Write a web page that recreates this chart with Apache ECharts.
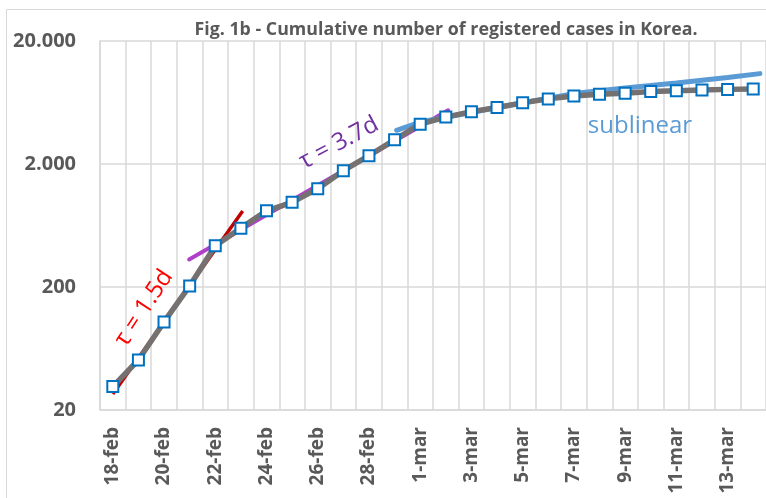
<!DOCTYPE html>
<html>
<head>
<meta charset="utf-8">
<script src="https://cdn.jsdelivr.net/npm/echarts@6/dist/echarts.min.js"></script>
<style>
  html, body { margin: 0; padding: 0; background: #fff; }
  #chart { width: 766px; height: 498px; }
</style>
</head>
<body>
<div id="chart"></div>
<script>
const days = [
  '18-feb', '19-feb', '20-feb', '21-feb', '22-feb', '23-feb', '24-feb', '25-feb',
  '26-feb', '27-feb', '28-feb', '29-feb', '1-mar', '2-mar', '3-mar', '4-mar',
  '5-mar', '6-mar', '7-mar', '8-mar', '9-mar', '10-mar', '11-mar', '12-mar',
  '13-mar', '14-mar'
]
const cases = [
  31, 51, 104, 204, 433, 602, 833, 977, 1261, 1766, 2337, 3150, 4212,
  4812, 5328, 5766, 6284, 6767, 7134, 7382, 7513, 7755, 7869, 7979, 8086, 8162
]
// fit lines: [day index, cases]
const fitFast = [[0, 27], [5.07, 828]]
const fitSlow = [[2.98, 335], [13.09, 5460]]
const fitSublinear = [
  [11.08, 3760], [12, 4390], [14, 5250], [16, 6300], [18, 7470],
  [20, 8300], [22, 9100], [24, 10080], [25.26, 10860]
]
const yTickLabels = ['20', '200', '2.000', '20.000']

const chart = echarts.init(document.getElementById('chart'))
chart.setOption({
  animation: false,
  title: {
    text: 'Fig. 1b - Cumulative number of registered cases in Korea.',
    left: 441,
    top: 16,
    textAlign: 'center',
    textStyle: {
      fontFamily: 'Open Sans',
      fontWeight: 'bold',
      fontSize: 17.8,
      color: '#595959'
    }
  },
  grid: { left: 100, top: 41, right: 0, bottom: 88 },
  xAxis: [{
    type: 'category',
    data: days,
    boundaryGap: true,
    axisLine: { lineStyle: { color: '#d9d9d9', width: 1.5 } },
    axisTick: { show: false },
    axisLabel: {
      interval: 1,
      rotate: 90,
      margin: 17,
      fontFamily: 'Open Sans',
      fontWeight: 'bold',
      fontSize: 19,
      color: '#595959'
    },
    splitLine: {
      show: true,
      interval: 0,
      lineStyle: { color: '#d9d9d9', width: 1.5 }
    }
  }, {
    type: 'value',
    min: -0.5,
    max: 25.5,
    show: false
  }],
  yAxis: [{
    type: 'log',
    logBase: 10,
    min: 20,
    max: 20000,
    show: false
  }, {
    type: 'value',
    position: 'left',
    min: 0,
    max: 3,
    interval: 1,
    axisLine: { show: true, lineStyle: { color: '#d9d9d9', width: 1.5 } },
    axisTick: { show: false },
    axisLabel: {
      margin: 24,
      fontFamily: 'Open Sans',
      fontWeight: 'bold',
      fontSize: 20,
      color: '#595959',
      formatter: (v) => yTickLabels[Math.round(v)]
    },
    splitLine: { lineStyle: { color: '#d9d9d9', width: 1.5 } }
  }],
  graphic: [
    {
      type: 'rect',
      shape: { x: 6.5, y: 9.5, width: 800, height: 520 },
      style: { fill: 'none', stroke: '#d9d9d9', lineWidth: 1 },
      silent: true
    },
    {
      type: 'text',
      x: 144, y: 308, rotation: 56.5 * Math.PI / 180, z: 10,
      style: {
        text: 'τ = 1.5d', fill: '#ff0000', font: '24px "Open Sans"',
        textAlign: 'center', textVerticalAlign: 'middle'
      }
    },
    {
      type: 'text',
      x: 339, y: 143, rotation: 28 * Math.PI / 180, z: 10,
      style: {
        text: 'τ = 3.7d', fill: '#7030a0', font: '24px "Open Sans"',
        textAlign: 'center', textVerticalAlign: 'middle'
      }
    },
    {
      type: 'text',
      x: 640, y: 126, z: 10,
      style: {
        text: 'sublinear', fill: '#5b9bd5', font: '24px "Open Sans"',
        textAlign: 'center', textVerticalAlign: 'middle'
      }
    }
  ],
  series: [
    {
      name: 'fit fast',
      type: 'line',
      xAxisIndex: 1,
      yAxisIndex: 0,
      data: fitFast,
      symbol: 'none',
      z: 1,
      lineStyle: { color: '#c00000', width: 3.5 }
    },
    {
      name: 'fit slow',
      type: 'line',
      xAxisIndex: 1,
      yAxisIndex: 0,
      data: fitSlow,
      symbol: 'none',
      z: 1,
      lineStyle: { color: '#b040c8', width: 4, cap: 'round' }
    },
    {
      name: 'sublinear',
      type: 'line',
      xAxisIndex: 1,
      yAxisIndex: 0,
      data: fitSublinear,
      symbol: 'none',
      z: 1,
      lineStyle: { color: '#5b9bd5', width: 5, cap: 'round' }
    },
    {
      name: 'cases',
      type: 'line',
      xAxisIndex: 0,
      yAxisIndex: 0,
      data: cases,
      z: 3,
      symbol: 'rect',
      symbolSize: 11,
      itemStyle: { color: '#fff', borderColor: '#0070c0', borderWidth: 2 },
      lineStyle: { color: '#767171', width: 5.5 }
    }
  ]
})
</script>
</body>
</html>
